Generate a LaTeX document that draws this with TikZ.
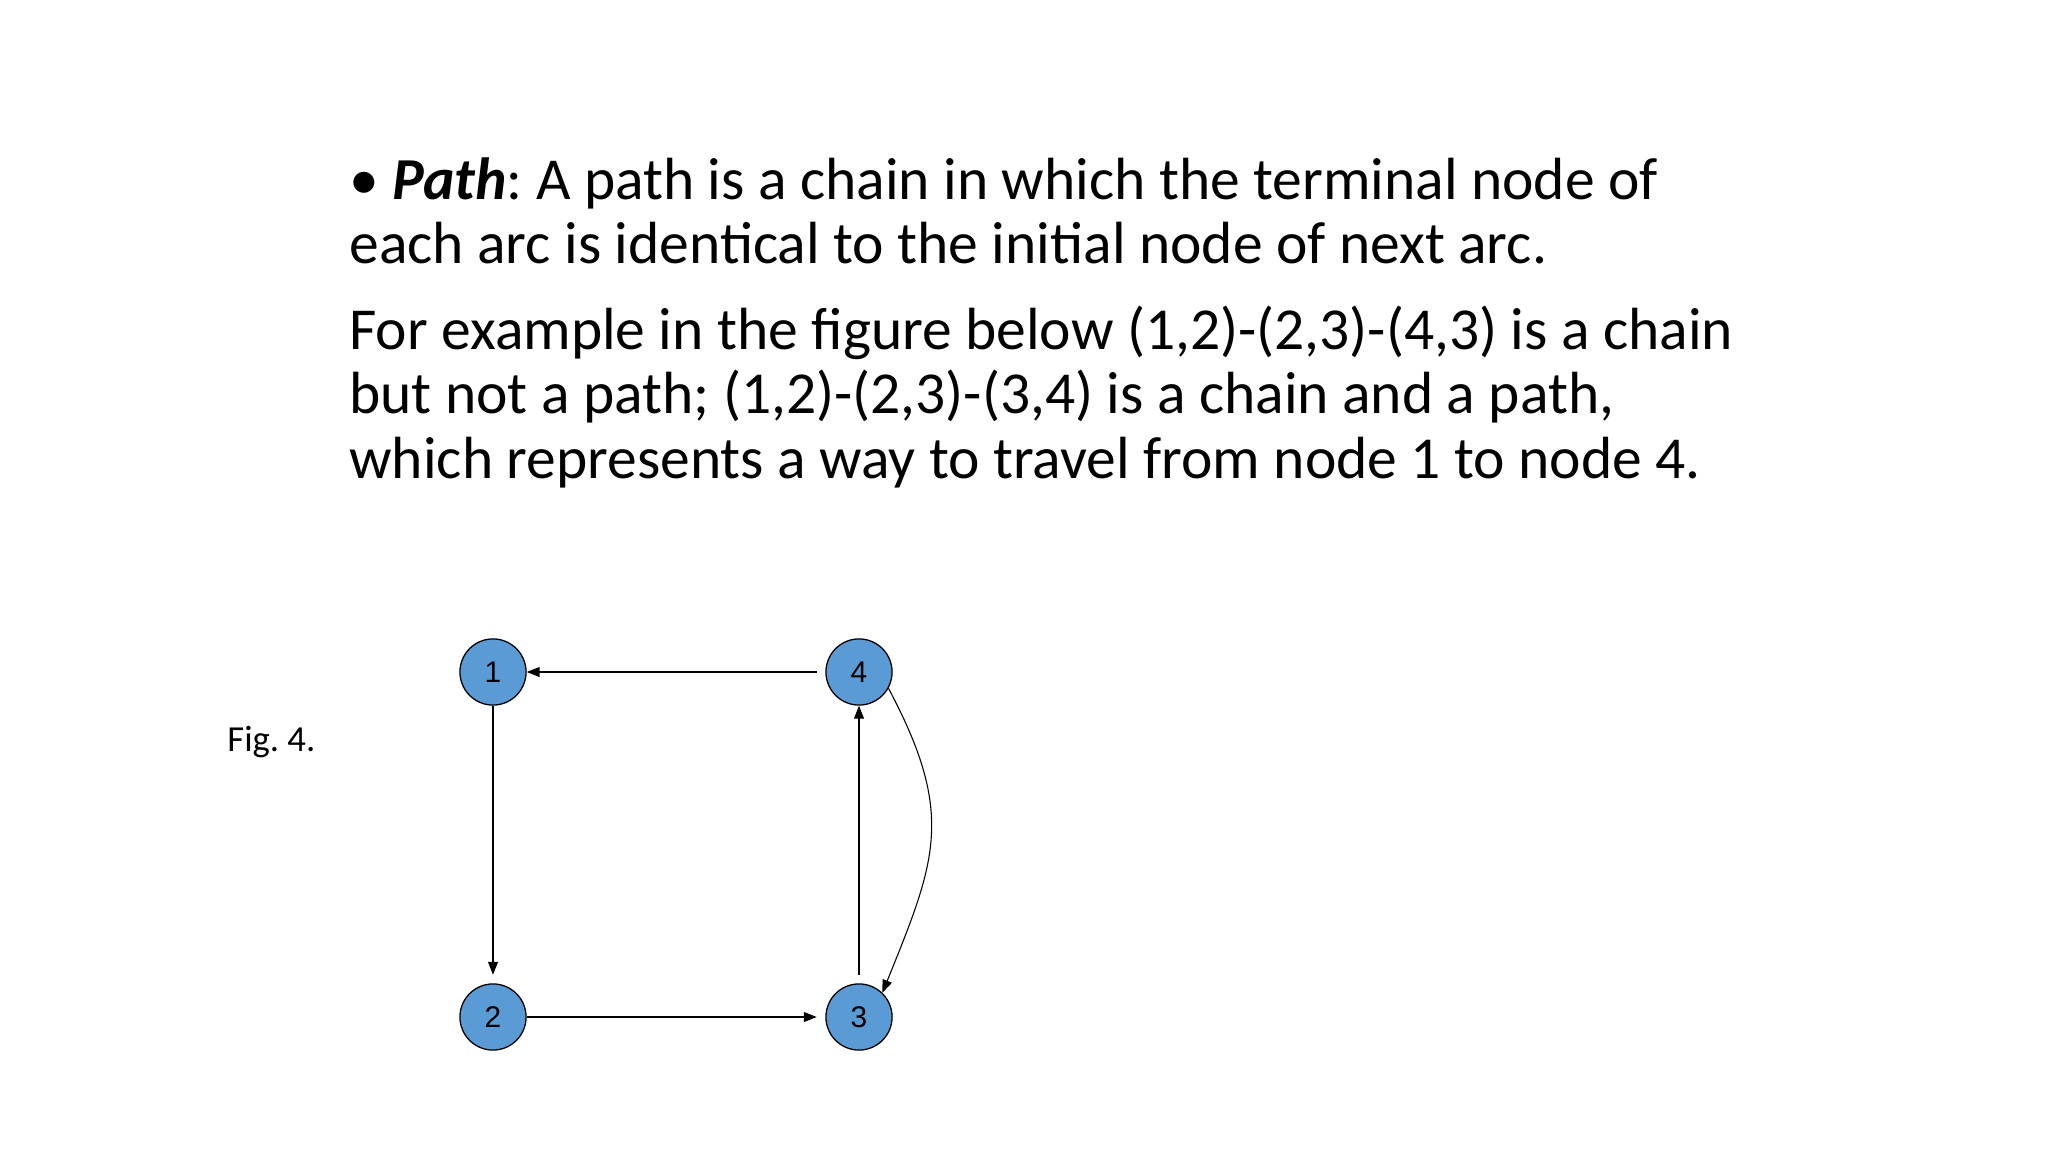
\documentclass[tikz,border=0pt]{standalone}
\usepackage{fontspec}
\setmainfont{Carlito}
\newfontfamily\numfont{Liberation Sans}
\usetikzlibrary{arrows.meta}
\frenchspacing

\definecolor{nodeblue}{HTML}{5B9BD5}

\tikzset{
  vertex/.style={circle, draw=black, line width=0.6pt, fill=nodeblue,
    minimum size=31pt, inner sep=0pt, font=\numfont\fontsize{14}{16}\selectfont},
  arc/.style={line width=0.5pt, -{Triangle[length=6pt,width=4.6pt]}},
  para/.style={anchor=base west, inner sep=0pt, align=left,
    font=\fontsize{27.9}{30.2}\selectfont}
}

\begin{document}
\begin{tikzpicture}[x=0.46875pt, y=-0.46875pt]
\useasboundingbox (0,0) rectangle (2048,1152);

\node[para] (def) at (349,264) {\textbullet\ \textbf{\textit{Path}}: A path is a chain in which the terminal node of\\each arc is identical to the initial node of next arc.};
\node[para] (ex) at (349,478) {For example in the figure below (1,2)-(2,3)-(4,3) is a chain\\but not a path; (1,2)-(2,3)-(3,4) is a chain and a path,\\which represents a way to travel from node 1 to node 4.};

\node[anchor=base west, inner sep=0pt, font=\fontsize{17.2}{21}\selectfont] (fig) at (227,751) {Fig. 4.};

\node[vertex] (n1) at (493,672) {1};
\node[vertex] (n4) at (859,672) {4};
\node[vertex] (n2) at (493,1017) {2};
\node[vertex] (n3) at (859,1017) {3};

\draw[arc, shorten <=4pt] (n4) -- (n1);
\draw[arc, shorten >=4pt] (n1) -- (n2);
\draw[arc, shorten >=4pt] (n2) -- (n3);
\draw[arc, shorten <=4pt] (n3) -- (n4);
\draw[arc] (n4.-29) to[out=-62, in=68, looseness=1.2] (n3.46);

\end{tikzpicture}
\end{document}
